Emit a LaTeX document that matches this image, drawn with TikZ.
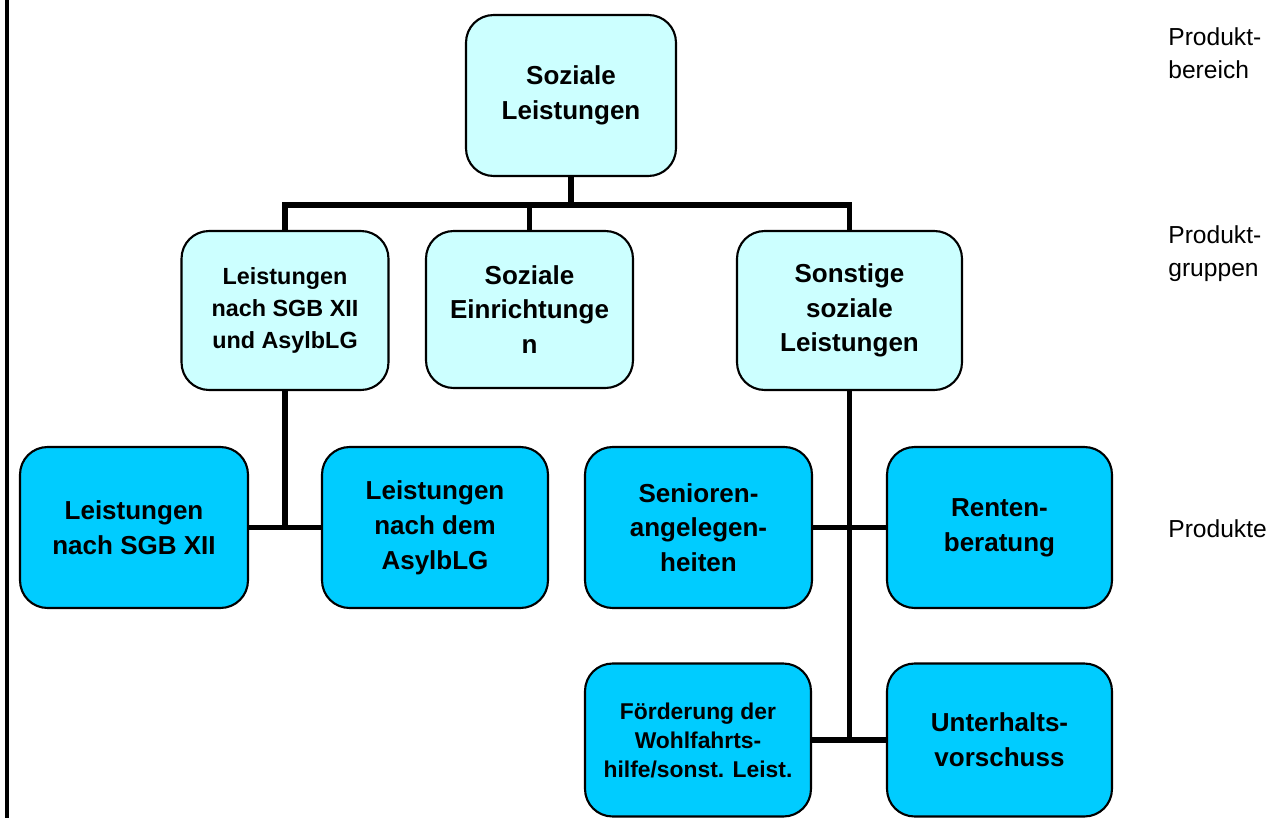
\documentclass[tikz,border=0pt]{standalone}
\usepackage{fontspec}
\setmainfont{Liberation Sans}
\definecolor{hellblau}{HTML}{CCFFFF}
\definecolor{tuerkis}{HTML}{00CCFF}

\begin{document}
\begin{tikzpicture}[x=0.02cm, y=-0.02cm]
\tikzstyle{box} = [rectangle, rounded corners=0.55cm, draw=black, line width=1.2pt, align=center, inner sep=0pt, font=\fontsize{14.8}{19.8}\selectfont\bfseries]
\tikzstyle{gruppe} = [box, fill=hellblau]
\tikzstyle{produkt} = [box, fill=tuerkis, minimum height=3.22cm]
\tikzstyle{ebene} = [align=left, inner sep=0pt, font=\fontsize{14}{18.7}\selectfont]
\tikzstyle{linie} = [line width=3.4pt]
\useasboundingbox (0,0) rectangle (1275,818);

% Produktbereich und Produktgruppen
\node (SL)   [gruppe, minimum width=4.2cm, minimum height=3.22cm] at (571,95.5) {Soziale\\Leistungen};
\node (SGB)  [gruppe, minimum width=4.14cm, minimum height=3.18cm, font=\fontsize{13.3}{18}\selectfont\bfseries] at (285,310.5) {Leistungen\\nach SGB XII\\und AsylbLG};
\node (SE)   [gruppe, minimum width=4.14cm, minimum height=3.14cm] at (529.5,309.5) {Soziale\\Einrichtunge\\n};
\node (SSL)  [gruppe, minimum width=4.5cm, minimum height=3.18cm] at (849.5,310.5) {Sonstige\\soziale\\Leistungen};

% Produkte
\node (LSGB)  [produkt, minimum width=4.56cm] at (134,527.5) {Leistungen\\nach SGB XII};
\node (LAsyl) [produkt, minimum width=4.52cm] at (435,527.5) {Leistungen\\nach dem\\AsylbLG};
\node (SA)    [produkt, minimum width=4.54cm] at (698.5,527.5) {Senioren-\\angelegen-\\heiten};
\node (RB)    [produkt, minimum width=4.5cm] at (999.5,527.5) {Renten-\\beratung};
\node (WH)    [produkt, minimum width=4.52cm, minimum height=3.06cm, font=\fontsize{13}{16.5}\selectfont\bfseries] at (698,740) {Förderung der\\Wohlfahrts-\\hilfe/sonst. Leist.};
\node (UV)    [produkt, minimum width=4.5cm, minimum height=3.06cm] at (999.5,740) {Unterhalts-\\vorschuss};

% Ebenen
\node (lbereich) [ebene, anchor=north west] at (1168,27) {Produkt-\\bereich};
\node (lgruppen) [ebene, anchor=north west] at (1168,225) {Produkt-\\gruppen};
\node (lprodukte) [ebene, anchor=west] at (1168,529) {Produkte};

\draw [line width=2.3pt] (7,0) -- (7,818);

\coordinate (bar) at (571,205);
\draw [linie] (SL.south) -- (bar);
\draw [linie] (SGB.north) |- (bar) -| (SSL.north);
\draw [linie] (SE.north) -- (SE.north |- bar);

\draw [linie] (SGB.south) -- (SGB.south |- LSGB.east);
\draw [linie] (LSGB.east) -- (LAsyl.west);
\draw [linie] (SSL.south) -- (SSL.south |- WH.east);
\draw [linie] (SA.east) -- (RB.west);
\draw [linie] (WH.east) -- (UV.west);

\end{tikzpicture}
\end{document}
